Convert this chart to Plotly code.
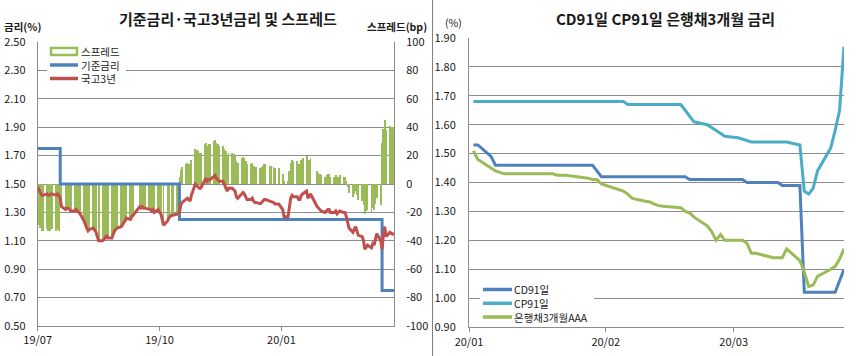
import pandas as pd
import plotly.graph_objects as go

W, H = 868, 356
FONT = "Noto Sans CJK KR"

# ---------------- Left chart data ----------------
kr_holidays = ["2019-08-15", "2019-09-12", "2019-09-13", "2019-10-03", "2019-10-09",
               "2019-12-25", "2019-12-31", "2020-01-01", "2020-01-24", "2020-01-27"]

ktb3y_jul = [1.48, 1.46, 1.44, 1.42, 1.42, 1.43, 1.42, 1.42, 1.43, 1.43, 1.42, 1.43, 1.42,
             1.40, 1.34, 1.32, 1.33, 1.33, 1.32, 1.31, 1.31, 1.32, 1.31]
ktb3y_aug = [1.30, 1.29, 1.24, 1.21, 1.19, 1.17, 1.18, 1.19, 1.17, 1.16, 1.10, 1.10, 1.11,
             1.12, 1.14, 1.12, 1.12, 1.15, 1.17, 1.18, 1.19]
ktb3y_sep = [1.20, 1.21, 1.23, 1.24, 1.26, 1.25, 1.27, 1.28, 1.34, 1.33, 1.34, 1.33, 1.33,
             1.32, 1.32, 1.31, 1.32, 1.30, 1.32]
ktb3y_oct = [1.30, 1.29, 1.21, 1.24, 1.26, 1.28, 1.28, 1.29, 1.29, 1.30, 1.35, 1.37, 1.39,
             1.40, 1.39, 1.38, 1.42, 1.50, 1.49, 1.48, 1.47]
ktb3y_nov = [1.47, 1.53, 1.54, 1.52, 1.53, 1.53, 1.55, 1.56, 1.54, 1.53, 1.52, 1.52, 1.50,
             1.48, 1.45, 1.47, 1.47, 1.46, 1.45, 1.41, 1.40]
ktb3y_dec = [1.43, 1.44, 1.43, 1.41, 1.39, 1.39, 1.40, 1.38, 1.37, 1.37, 1.36, 1.37, 1.38,
             1.39, 1.39, 1.38, 1.38, 1.37, 1.36, 1.36]
ktb3y_jan = [1.32, 1.27, 1.27, 1.34, 1.40, 1.42, 1.41, 1.41, 1.39, 1.39, 1.42, 1.43, 1.45,
             1.40, 1.42, 1.43, 1.34, 1.33, 1.32, 1.31]
ktb3y_feb = [1.30, 1.31, 1.32, 1.32, 1.30, 1.30, 1.31, 1.29, 1.30, 1.31, 1.30, 1.30, 1.27,
             1.23, 1.19, 1.16, 1.18, 1.20, 1.17, 1.14]
ktb3y_mar = [1.13, 1.10, 1.04, 1.06, 1.07, 1.05, 1.08, 1.07, 1.11, 1.15, 1.10, 1.04, 1.14,
             1.20, 1.13, 1.16, 1.15, 1.15, 1.14]
ktb3y = (ktb3y_jul + ktb3y_aug + ktb3y_sep + ktb3y_oct + ktb3y_nov + ktb3y_dec
         + ktb3y_jan + ktb3y_feb + ktb3y_mar)

left_dates = pd.bdate_range("2019-07-01", "2020-03-26", freq="C", holidays=kr_holidays)
if len(left_dates) != len(ktb3y):
    raise ValueError(f"left length mismatch {len(left_dates)} vs {len(ktb3y)}")

base_change_dates = ["2019-07-01", "2019-07-18", "2019-10-16", "2020-03-17", "2020-03-26"]
base_rate = [1.75, 1.50, 1.25, 0.75, 0.75]

# spread (bp) = 3y KTB - base rate
bc = pd.to_datetime(base_change_dates)
base_daily = []
for d in left_dates:
    r = base_rate[0]
    for cd, v in zip(bc, base_rate):
        if d >= cd:
            r = v
    base_daily.append(r)
spread_bp = [round((t - b) * 100, 1) for t, b in zip(ktb3y, base_daily)]

left_ticks = ["2019-07-01", "2019-10-01", "2020-01-01"]
left_ticktext = ["19/07", "19/10", "20/01"]
spread_tickvals = [-100, -80, -60, -40, -20, 0, 20, 40, 60, 80, 100]
spread_ticktext = ["-100", "-80", "-60", "-40", "-20", "0", "20", "40", "60", "80", "100"]

# ---------------- Right chart data ----------------
right_dates = pd.bdate_range("2020-01-02", "2020-03-26", freq="C", holidays=kr_holidays)

cd91 = [1.53, 1.53, 1.49, 1.46, 1.46, 1.46, 1.46, 1.46, 1.46, 1.46, 1.46, 1.46, 1.46, 1.46,
        1.46, 1.46, 1.46, 1.46, 1.44, 1.42,
        1.42, 1.42, 1.42, 1.42, 1.42, 1.42, 1.42, 1.42, 1.42, 1.42, 1.42, 1.42, 1.42, 1.41,
        1.41, 1.41, 1.41, 1.41, 1.41, 1.41,
        1.41, 1.41, 1.40, 1.40, 1.40, 1.40, 1.40, 1.40, 1.39, 1.39, 1.39, 1.02, 1.02, 1.02,
        1.02, 1.02, 1.02, 1.06, 1.10]
cp91 = [1.68, 1.68, 1.68, 1.68, 1.68, 1.68, 1.68, 1.68, 1.68, 1.68, 1.68, 1.68,
        1.68, 1.68, 1.68, 1.68, 1.68, 1.68, 1.68, 1.68,
        1.68, 1.68, 1.68, 1.67, 1.67, 1.67, 1.67, 1.67, 1.67, 1.67, 1.67, 1.67,
        1.65, 1.63, 1.61, 1.60, 1.59, 1.58, 1.57, 1.56,
        1.555, 1.55, 1.545, 1.54, 1.54, 1.54, 1.54, 1.54, 1.54, 1.54, 1.53,
        1.37, 1.36, 1.38, 1.44, 1.52, 1.58, 1.65, 1.87]
bank3m = [1.51, 1.48, 1.45, 1.44, 1.435, 1.43, 1.43, 1.43, 1.43, 1.43, 1.43, 1.43, 1.43,
          1.425, 1.425, 1.425, 1.415, 1.41, 1.41, 1.395,
          1.38, 1.375, 1.37, 1.36, 1.345, 1.335, 1.333, 1.325, 1.32, 1.318, 1.315, 1.313,
          1.30, 1.295, 1.28, 1.25, 1.23, 1.20, 1.22, 1.20,
          1.20, 1.20, 1.19, 1.155, 1.155, 1.145, 1.14, 1.14, 1.14, 1.17, 1.13, 1.09, 1.04,
          1.045, 1.075, 1.10, 1.11, 1.135, 1.17]
for nm, s in (("cd91", cd91), ("cp91", cp91), ("bank3m", bank3m)):
    if len(s) != len(right_dates):
        raise ValueError(f"{nm} length {len(s)} vs {len(right_dates)}")

right_ticks = ["2020-01-01", "2020-02-01", "2020-03-01"]
right_ticktext = ["20/01", "20/02", "20/03"]

left_legend_names = ["스프레드", "기준금리", "국고3년"]
right_legend_names = ["CD91일", "CP91일", "은행채3개월AAA"]

# ---------------- Styling ----------------
GRID = "#8c8c8c"
TXT = "#1a1a1a"
C_BLUE, C_RED, C_GREEN, C_TEAL = "#4F81BD", "#C0504D", "#9BBB59", "#4BACC6"


def px_x(p):
    return p / W


def px_y(p):
    return 1 - p / H


fig = go.Figure()

fig.add_trace(go.Bar(
    x=left_dates, y=spread_bp, xaxis="x", yaxis="y", name=left_legend_names[0],
    marker=dict(color=C_GREEN, line=dict(width=0)), width=1.4 * 86400000,
    hoverinfo="skip"))
fig.add_trace(go.Scatter(
    x=pd.to_datetime(base_change_dates), y=base_rate, xaxis="x", yaxis="y2",
    name=left_legend_names[1], mode="lines",
    line=dict(color=C_BLUE, width=3, shape="hv")))
fig.add_trace(go.Scatter(
    x=left_dates, y=ktb3y, xaxis="x", yaxis="y2", name=left_legend_names[2],
    mode="lines", line=dict(color=C_RED, width=3)))

fig.add_trace(go.Scatter(
    x=right_dates, y=cd91, xaxis="x2", yaxis="y3", name=right_legend_names[0],
    mode="lines", line=dict(color=C_BLUE, width=3)))
fig.add_trace(go.Scatter(
    x=right_dates, y=cp91, xaxis="x2", yaxis="y3", name=right_legend_names[1],
    mode="lines", line=dict(color=C_TEAL, width=3)))
fig.add_trace(go.Scatter(
    x=right_dates, y=bank3m, xaxis="x2", yaxis="y3", name=right_legend_names[2],
    mode="lines", line=dict(color=C_GREEN, width=3)))

tickfont = dict(family=FONT, size=11, color=TXT)

fig.update_layout(
    width=W, height=H, margin=dict(l=0, r=0, t=0, b=0, pad=0, autoexpand=False),
    paper_bgcolor="white", plot_bgcolor="white",
    font=dict(family=FONT, size=11, color=TXT),
    bargap=0, showlegend=False,
    xaxis=dict(domain=[px_x(37.7), px_x(394)], anchor="y", type="date",
               range=["2019-07-01", "2020-03-26"], tickvals=left_ticks, ticktext=left_ticktext,
               showgrid=False, showline=True, linecolor=GRID, linewidth=1,
               ticks="outside", ticklen=4, tickcolor=GRID, tickfont=tickfont,
               zeroline=False, automargin=False, ticklabelstandoff=0),
    yaxis=dict(domain=[px_y(326), px_y(42)], anchor="x", side="right",
               range=[-100, 100], tickvals=spread_tickvals, ticktext=spread_ticktext,
               showgrid=False, showline=True, linecolor=GRID, linewidth=1, zeroline=False,
               ticks="", tickfont=tickfont, ticklabelstandoff=9, automargin=False),
    yaxis2=dict(overlaying="y", anchor="x", side="left", range=[0.5, 2.5], tick0=0.5,
                dtick=0.2, tickformat=".2f", showgrid=True, gridcolor=GRID, gridwidth=1,
                showline=True, linecolor=GRID, linewidth=1, zeroline=False, ticks="",
                tickfont=tickfont, ticklabelstandoff=9, automargin=False),
    xaxis2=dict(domain=[px_x(469), px_x(844)], anchor="y3", type="date",
                range=["2020-01-01", "2020-03-26"], tickvals=right_ticks,
                ticktext=right_ticktext, showgrid=False, showline=True, linecolor=GRID,
                linewidth=1, ticks="outside", ticklen=4, tickcolor=GRID, tickfont=tickfont,
                zeroline=False, automargin=False, ticklabelstandoff=1),
    yaxis3=dict(domain=[px_y(327), px_y(38)], anchor="x2", range=[0.9, 1.9], tick0=0.9,
                dtick=0.1, tickformat=".2f", showgrid=True, gridcolor=GRID, gridwidth=1,
                showline=True, linecolor=GRID, linewidth=1, zeroline=False, ticks="",
                tickfont=tickfont, ticklabelstandoff=10, automargin=False),
)

annots = [
    dict(text="기준금리·국고3년금리 및 스프레드", x=px_x(228), y=px_y(18),
         font=dict(family=FONT, size=15, color=TXT, weight="bold")),
    dict(text="CD91일 CP91일 은행채3개월 금리", x=px_x(665), y=px_y(18),
         font=dict(family=FONT, size=15, color=TXT, weight="bold")),
    dict(text="금리(%)", x=px_x(2), y=px_y(26.5), xanchor="left",
         font=dict(family=FONT, size=10.5, color=TXT, weight="bold")),
    dict(text="스프레드(bp)", x=px_x(429), y=px_y(26.5), xanchor="right",
         font=dict(family=FONT, size=10.5, color=TXT, weight="bold")),
    dict(text="(%)", x=px_x(443), y=px_y(22), xanchor="left",
         font=dict(family=FONT, size=10.5, color=TXT)),
]

shapes = [
    dict(type="line", x0=px_x(432.5), x1=px_x(432.5), y0=0, y1=1,
         line=dict(color="#7f7f7f", width=1)),
    # legend backgrounds
    dict(type="rect", x0=px_x(47), x1=px_x(126), y0=px_y(86), y1=px_y(44),
         fillcolor="white", line=dict(width=0), layer="above"),
    dict(type="rect", x0=px_x(480), x1=px_x(594), y0=px_y(324), y1=px_y(282),
         fillcolor="white", line=dict(width=0), layer="above"),
]

# left legend
left_rows = [51.5, 65, 78.5]
shapes.append(dict(type="rect", x0=px_x(51), x1=px_x(77), y0=px_y(55), y1=px_y(48),
                   fillcolor="white", line=dict(color=C_GREEN, width=2.5), layer="above"))
shapes.append(dict(type="line", x0=px_x(50), x1=px_x(78), y0=px_y(65), y1=px_y(65),
                   line=dict(color=C_BLUE, width=3.5), layer="above"))
shapes.append(dict(type="line", x0=px_x(50), x1=px_x(78), y0=px_y(78.5), y1=px_y(78.5),
                   line=dict(color=C_RED, width=3.5), layer="above"))
for nm, yy in zip(left_legend_names, left_rows):
    annots.append(dict(text=nm, x=px_x(79), y=px_y(yy), xanchor="left",
                       font=dict(family=FONT, size=10.5, color=TXT)))

# right legend
right_rows = [289.5, 303.3, 317]
for col, yy in zip([C_BLUE, C_TEAL, C_GREEN], right_rows):
    shapes.append(dict(type="line", x0=px_x(483), x1=px_x(512), y0=px_y(yy), y1=px_y(yy),
                       line=dict(color=col, width=3.5), layer="above"))
for nm, yy in zip(right_legend_names, right_rows):
    annots.append(dict(text=nm, x=px_x(512), y=px_y(yy), xanchor="left",
                       font=dict(family=FONT, size=10.5, color=TXT)))

for a in annots:
    a.setdefault("xanchor", "center")
    a.update(xref="paper", yref="paper", yanchor="middle", showarrow=False)
for s in shapes:
    s.update(xref="paper", yref="paper")

fig.update_layout(annotations=annots, shapes=shapes)

fig.write_html(
    "out.html",
    config={"displayModeBar": False, "staticPlot": True},
    post_script=("document.body.style.margin='0';document.body.style.padding='0';"
                 "document.body.style.overflow='hidden';"),
)
